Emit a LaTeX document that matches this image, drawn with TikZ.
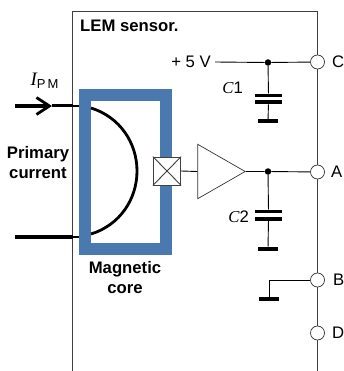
\documentclass[tikz,border=0pt]{standalone}
\usepackage{fontspec}
\setmainfont{Liberation Sans}
\newfontfamily\serifit[ItalicFont=Liberation Serif Italic]{Liberation Serif}
\usetikzlibrary{shapes.geometric,arrows.meta}

\begin{document}
\begin{tikzpicture}[x=1pt,y=-1pt,
    every node/.style={font=\fontsize{16.7}{20}\selectfont},
    title/.style={font=\fontsize{16.7}{20}\selectfont\bfseries,align=center},
    frame/.style={draw=black!75,line width=0.8pt},
    core/.style={rectangle,draw=coreblue,line width=12.5pt,minimum width=81pt,minimum height=154pt,inner sep=0pt},
    hall/.style={rectangle,draw=black!75,fill=white,line width=0.8pt,minimum width=27.5pt,minimum height=28pt,inner sep=0pt},
    amp/.style={isosceles triangle,draw=black!80,fill=white,line width=0.7pt,isosceles triangle stretches,minimum width=54.5pt,minimum height=47.5pt,inner sep=0pt},
    terminal/.style={circle,draw=black!80,fill=white,line width=0.7pt,minimum size=14pt,inner sep=0pt},
    junction/.style={circle,fill=black,minimum size=6.5pt,inner sep=0pt},
    plate/.style={rectangle,fill=black,minimum width=27pt,minimum height=3.6pt,inner sep=0pt},
    gndbar/.style={rectangle,fill=black,minimum width=20pt,minimum height=4pt,inner sep=0pt},
    wire/.style={line width=0.9pt,color=black},
    primary/.style={line width=3.4pt,color=black}
]
\definecolor{coreblue}{HTML}{4A79AF}

\useasboundingbox (0,0) rectangle (344,371);

% Sensor frame
\coordinate (frameBL) at (72.5,371);
\coordinate (frameTL) at (72.5,11.5);
\coordinate (frameTR) at (317.5,11.5);
\coordinate (frameBR) at (317.5,371);
\draw[frame] (frameBL) -- (frameTL) -- (frameTR) -- (frameBR);
\node[title,anchor=west,inner sep=0pt] (sensor) at (80,26) {LEM sensor.};

% Magnetic core and primary conductor
\coordinate (inA) at (15,106);
\coordinate (inTip) at (52,106);
\coordinate (inB) at (15,237);
\coordinate (edgeB) at (73,237);
\coordinate (coreA) at (79,106);
\coordinate (coreB) at (79,237);
\coordinate (arcA) at (91,108);
\coordinate (arcB) at (91,234);
\node[core] (magcore) at (125.25,172) {};
\draw[primary,line width=1.4pt] (inTip) -- (coreA);
\draw[primary,line width=1.4pt] (edgeB) -- (coreB);
\draw[primary,line width=3pt] (inTip) -- (frameTL |- inTip);
\draw[primary,-{Straight Barb[length=13pt,width=17pt,line width=2.8pt]}] (inA) -- (inTip);
\draw[primary] (inB) -- (edgeB);
\draw[primary,line width=2.8pt] (arcA) .. controls (120,117) and (137,143) .. (137,171) .. controls (137,199) and (120,225) .. (arcB);

% Sensor and amplifier
\node[hall] (sense) at (167,171) {};
\draw[wire,black!75] (sense.north west) -- (sense.south east);
\draw[wire,black!75] (sense.south west) -- (sense.north east);
\node[amp,anchor=west] (buffer) at (197.3,171.5) {};

% Terminals
\node[terminal] (termC) at (317.5,62) {};
\node[terminal] (termA) at (317.5,172) {};
\node[terminal] (termB) at (317.5,280) {};
\node[terminal] (termD) at (317.5,333) {};
\node[anchor=west,inner sep=0pt] (labC) at (332,62) {C};
\node[anchor=west,inner sep=0pt] (labA) at (331,172) {A};
\node[anchor=west,inner sep=0pt] (labB) at (333,280) {B};
\node[anchor=west,inner sep=0pt] (labD) at (332,333) {D};

% Supply and C1
\node[anchor=east,inner sep=0pt] (supply) at (211,62) {+ 5 V};
\node[junction] (dotC) at (268,62.5) {};
\node[plate] (c1top) at (268.5,95.5) {};
\node[plate] (c1bot) at (268.5,102.3) {};
\node[gndbar] (c1gnd) at (268,121) {};
\node[anchor=east,inner sep=0pt] (c1lab) at (243,88) {{\serifit\itshape C}1};
\draw[wire] (supply.east) ++(4,0) coordinate (supplyEnd) -- (dotC) -- (termC);
\draw[wire] (dotC) -- (c1top);
\draw[wire] (c1bot) -- (c1gnd);

% Output and C2
\node[junction] (dotA) at (268,171.5) {};
\node[plate] (c2top) at (268.5,211.5) {};
\node[plate] (c2bot) at (268.5,219) {};
\node[gndbar] (c2gnd) at (268,248.7) {};
\node[anchor=east,inner sep=0pt] (c2lab) at (249,216.5) {{\serifit\itshape C}2};
\draw[wire] (sense.east) -- (buffer.west);
\draw[wire] (buffer.apex) -- (dotA) -- (termA);
\draw[wire] (dotA) -- (c2top);
\draw[wire] (c2bot) -- (c2gnd);

% Ground on B
\node[gndbar] (bgnd) at (269,298.7) {};
\draw[wire] (termB) -| (bgnd);

% Labels
\node[inner sep=0pt] (ipm) at (44.5,81) {{\serifit\fontsize{19}{20}\selectfont\itshape I}\raisebox{-0.4ex}{\fontsize{13}{14}\selectfont P\,M}};
\node[title,inner sep=0pt] (primlab) at (38,163) {Primary\\current};
\node[title,inner sep=0pt] (corelab) at (125,277.5) {Magnetic\\core};

\end{tikzpicture}
\end{document}
